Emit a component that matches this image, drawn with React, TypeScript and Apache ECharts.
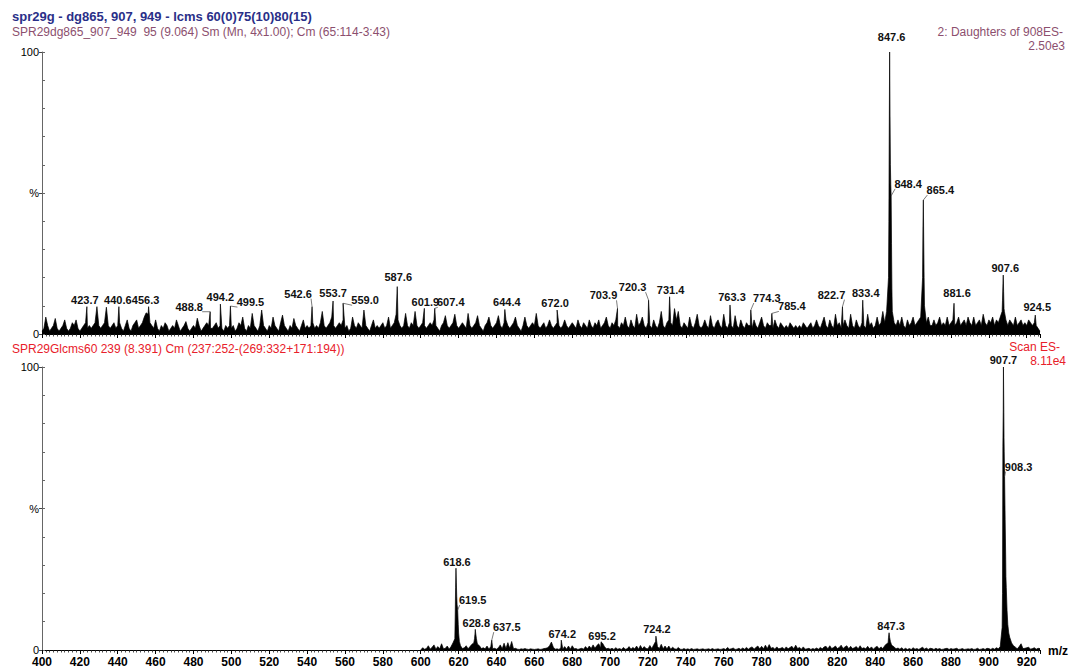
import React, { useEffect, useRef } from "react";
import * as echarts from "echarts";

const FONT = '"Liberation Sans", Arial, Helvetica, sans-serif';

const MZ_MIN = 400;
const MZ_MAX = 927;
const X_LABEL_STEP = 20;

const TITLE = "spr29g - dg865, 907, 949 - lcms 60(0)75(10)80(15)";
const TOP_INFO = "SPR29dg865_907_949  95 (9.064) Sm (Mn, 4x1.00); Cm (65:114-3:43)";
const TOP_RIGHT_1 = "2: Daughters of 908ES-";
const TOP_RIGHT_2 = "2.50e3";
const BOTTOM_INFO = "SPR29Glcms60 239 (8.391) Cm (237:252-(269:332+171:194))";
const BOTTOM_RIGHT_1 = "Scan ES-";
const BOTTOM_RIGHT_2 = "8.11e4";
const X_UNIT = "m/z";

// Top spectrum: relative intensity (%) at each integer m/z from 400 to 927
const TOP_BASE_START = 400;
const topBase = [
  1, 2, 6, 3, 1, 2, 3, 5.5, 2, 1,
  2, 3, 5, 2, 1, 2, 4, 3, 5, 2,
  1, 2, 3, 4, 2, 3, 2, 3, 4, 9.7,
  3, 2, 3, 4, 9.5, 3, 2, 3, 4, 2,
  3, 4, 2, 1, 3, 5, 2, 1, 3, 4,
  5, 2, 3, 4, 6, 7.5, 7, 4, 3, 2,
  5, 2, 1, 3, 2, 4, 3, 1, 2, 3,
  2, 5, 3, 1, 2, 3, 4.4, 2, 1, 2,
  3, 2, 5.6, 3, 1, 2, 3, 4, 3, 2,
  2, 3, 4, 2, 3, 2, 1, 3, 2, 3,
  2, 3, 1, 2, 4, 3, 6, 2, 1, 3,
  2, 7.3, 3, 2, 1, 3, 8.5, 3, 2, 1,
  3, 2, 6, 3, 2, 1, 4, 6.7, 3, 2,
  1, 3, 2, 5.5, 3, 2, 1, 3, 5, 2,
  3, 2, 3, 4, 2, 3, 2, 4, 8, 3,
  2, 3, 4, 6, 3, 2, 3, 4, 3, 5,
  2, 3, 1, 2, 6, 3, 2, 4, 3, 2,
  8.5, 3, 2, 1, 3, 5, 2, 3, 2, 3,
  4, 2, 3, 6, 2, 3, 4, 7, 5, 3,
  2, 3, 7.3, 3, 2, 4, 3, 8, 3, 2,
  3, 4, 3, 2, 3, 4, 3, 5, 3, 2,
  1, 3, 4, 6.5, 3, 2, 3, 4, 7, 3,
  2, 3, 4, 3, 2, 7.3, 3, 2, 3, 4,
  6.5, 3, 2, 1, 3, 4, 6, 3, 2, 3,
  4, 6.5, 3, 2, 4, 5, 3, 2, 3, 4,
  6, 3, 2, 1, 3, 6, 3, 2, 3, 4,
  3, 7.3, 3, 2, 3, 4, 2, 3, 5, 3,
  2, 3, 4, 3, 2, 3, 5, 3, 2, 3,
  4, 3, 2, 5, 3, 2, 4, 3, 2, 5,
  3, 2, 4, 3, 5, 2, 3, 4, 6, 3,
  2, 4, 3, 5, 3, 2, 4, 3, 6, 3,
  2, 5, 3, 2, 7, 3, 4, 6, 3, 2,
  4, 3, 2, 5, 3, 2, 4, 8, 3, 2,
  4, 5, 4, 3, 9, 5, 8, 3, 2, 4,
  3, 2, 6, 3, 2, 4, 7, 3, 2, 3,
  5, 3, 2, 6.5, 3, 2, 4, 5, 3, 2,
  7, 3, 2, 4, 3, 2, 6.5, 3, 2, 5,
  3, 2, 4, 3, 3, 2, 5, 3, 2, 4,
  6, 3, 2, 4, 3, 3, 2, 5, 3, 2,
  4, 3, 2, 3, 2, 4, 3, 2, 3, 2,
  3, 2, 4, 3, 2, 3, 4, 2, 3, 5,
  3, 2, 4, 6, 3, 2, 5, 3, 2, 7,
  3, 4, 2, 3, 5, 3, 2, 7, 3, 2,
  5, 3, 2, 4, 3, 2, 7, 3, 4, 2,
  3, 6, 3, 4, 8, 4, 8, 20, 60, 8,
  4, 3, 5, 3, 6, 3, 2, 5, 3, 4,
  6, 3, 4, 5, 6, 20, 10, 4, 6, 3,
  3, 5, 3, 4, 6, 3, 4, 3, 6, 3,
  4, 5, 3, 4, 6, 3, 4, 5, 3, 6,
  4, 3, 6, 3, 4, 5, 3, 7, 4, 3,
  5, 4, 6, 3, 5, 4, 6, 8, 9, 5,
  3, 5, 4, 3, 6, 3, 4, 5, 3, 4,
  3, 5, 4, 3, 4, 3, 2, 1,
];

// Labelled peaks of the top spectrum [m/z, %]
const topLabeled = [
  [423.7, 9.7], [440.6, 9.7], [456.3, 9.7], [488.8, 7.9], [494.2, 10.6],
  [499.5, 9.9], [542.6, 9.7], [553.7, 11.7], [559.0, 10.9], [587.6, 16.8],
  [601.9, 9.1], [607.4, 9.1], [644.4, 8.7], [672.0, 8.5], [703.9, 9.1],
  [720.3, 12], [731.4, 13.2], [763.3, 10.3], [774.3, 8.5], [785.4, 7.3],
  [822.7, 9.7], [833.4, 12], [847.6, 100], [848.4, 49], [865.4, 47.5],
  [881.6, 10.9], [907.6, 20.9], [924.5, 6.7],
];

// Unlabelled profile points of the main top peaks [m/z, %]
const topShape = [
  [847.2, 40], [847.4, 72], [847.8, 78], [848.2, 53], [848.6, 32], [848.8, 16],
  [865.2, 38], [865.6, 33], [865.8, 20],
  [907.2, 12], [907.4, 17], [907.8, 15], [908.2, 8],
];

// Bottom spectrum: relative intensity (%) at each integer m/z from 600 to 927
const BOTTOM_BASE_START = 600;
const bottomBase = [
  0, 0.8, 0.3, 0.5, 1.5, 0.3, 1.0, 1.8, 0.3, 1.2,
  0.4, 2.2, 0.4, 0.6, 1.4, 0.3, 1.2, 2.5, 4, 19,
  6, 1.5, 0.5, 0.8, 1.5, 0.4, 1.2, 2.0, 2.5, 6,
  2, 1.5, 0.5, 0.8, 0.4, 1.4, 0.3, 1.2, 0.4, 0.6,
  0.3, 0.8, 1.8, 0.4, 2.4, 0.5, 2.6, 0.6, 3.0, 0.4,
  0.6, 0.3, 0.2, 0.4, 0.3, 0.5, 0.3, 0.2, 0.4, 0.3,
  0.2, 0.3, 0.4, 0.2, 0.3, 0.5, 0.6, 0.8, 1.5, 2.8,
  1.0, 0.3, 0.4, 0.2, 0.8, 0.3, 1.2, 0.3, 1.4, 0.3,
  1.5, 0.4, 0.5, 0.2, 0.4, 0.6, 0.3, 1.2, 0.4, 1.4,
  0.5, 1.8, 0.6, 1.6, 2.2, 0.7, 2.4, 1.2, 0.4, 0.6,
  0.3, 0.6, 0.2, 0.8, 0.3, 0.5, 0.2, 0.9, 0.3, 0.4,
  1.2, 0.3, 0.9, 0.4, 1.4, 0.3, 1.6, 0.4, 1.2, 0.5,
  0.4, 1.6, 0.5, 1.8, 3.0, 1.2, 0.5, 2.0, 0.4, 1.4,
  0.4, 1.4, 0.3, 1.0, 0.4, 0.3, 0.9, 0.3, 0.2, 0.5,
  0.2, 0.4, 0.2, 0.5, 0.2, 0.3, 0.4, 0.2, 0.3, 0.4,
  0.2, 0.3, 0.4, 0.2, 0.5, 0.2, 0.3, 0.4, 0.2, 0.3,
  0.5, 0.2, 0.9, 0.3, 0.4, 0.7, 0.2, 0.3, 0.6, 0.2,
  0.7, 0.3, 0.9, 0.3, 0.8, 1.1, 0.3, 0.9, 1.4, 0.4,
  1.3, 0.4, 1.7, 0.5, 1.9, 0.6, 0.9, 0.3, 1.1, 0.4,
  0.6, 0.9, 0.3, 1.1, 0.4, 0.9, 1.3, 0.4, 1.7, 0.5,
  0.9, 0.3, 1.1, 0.3, 0.4, 0.6, 0.2, 0.5, 0.3, 0.7,
  0.3, 0.9, 0.4, 1.1, 1.3, 0.4, 1.5, 0.5, 0.9, 1.4,
  0.5, 0.9, 1.7, 0.5, 1.1, 1.5, 0.4, 1.3, 0.5, 0.8,
  1.2, 0.4, 1.5, 0.5, 0.8, 0.4, 1.3, 0.4, 1.1, 0.3,
  0.9, 1.3, 0.4, 1.1, 0.5, 1.5, 2.2, 4.5, 3, 1.5,
  1.1, 0.4, 0.7, 0.3, 0.8, 0.2, 0.6, 0.2, 0.5, 0.2,
  0.8, 0.3, 0.5, 0.2, 0.6, 1.0, 0.3, 0.7, 0.2, 0.6,
  0.5, 0.2, 0.6, 0.3, 0.5, 0.2, 0.3, 0.5, 0.6, 0.2,
  0.5, 0.3, 0.4, 0.6, 0.2, 0.3, 0.5, 0.2, 0.3, 0.4,
  0.3, 0.5, 0.2, 0.3, 0.6, 0.2, 0.3, 0.5, 0.2, 0.6,
  0.5, 0.2, 0.6, 0.3, 0.8, 0.4, 1.2, 8, 75, 26,
  9, 4.5, 2.5, 1.5, 1.0, 0.4, 1.2, 2.2, 0.5, 0.6,
  0.8, 1.0, 0.3, 0.5, 0.8, 0.3, 0.6, 0.5,
];

const bottomLabeled = [
  [618.6, 28.9], [619.5, 14.1], [628.8, 7.3], [637.5, 3.5], [674.2, 3.5],
  [695.2, 2.9], [724.2, 4.9], [847.3, 6.1], [907.7, 100], [908.3, 61.3],
];

const bottomShape = [
  [618.2, 12], [618.4, 22], [618.8, 24], [619.2, 16], [619.8, 9], [620.4, 3],
  [628.4, 4], [628.6, 5.5], [629.4, 4], [629.8, 2.5],
  [846.8, 2.5], [847.6, 4.5], [848.5, 2],
  [907.2, 20], [907.4, 72], [907.6, 85], [907.9, 84], [908.1, 70],
  [908.6, 46], [908.9, 32], [909.2, 22], [909.6, 14], [910.5, 6], [911.5, 3.5],
];

// label placement (pixel offsets of label centre from the peak top)
const topLabelOffsets = [
  [-2, -7], [-1, -7], [-3, -7], [-21, -5], [0, -7],
  [20, -4], [-14, -13], [0, -8], [22, -3], [1, -10],
  [1, -6], [16, -6], [2, -7], [-2, -7], [-14, -13],
  [-16, -13], [1, -7], [2, -8], [16, -12], [20, -7],
  [-11, -12], [3, -7], [2, -15], [17, -12], [17, -10],
  [3, -10], [2, -7], [2, -8],
];
const bottomLabelOffsets = [
  [1, -6], [15, -10], [1, -6], [15, -13], [1, -6],
  [1, -6], [1, -7], [2, -7], [0, -7], [14, -10],
];

function buildProfile(start: number, base: number[], labeled: number[][], shape: number[][]) {
  const pts: number[][] = base.map((v, i) => [start + i, v]);
  labeled.forEach((p) => pts.push([p[0], p[1]]));
  shape.forEach((p) => pts.push([p[0], p[1]]));
  pts.sort((a, b) => a[0] - b[0]);
  return pts;
}

function labelSeries(xIdx: number, yIdx: number, labeled: number[][], offsets: number[][]) {
  return {
    type: "custom",
    xAxisIndex: xIdx,
    yAxisIndex: yIdx,
    clip: false,
    silent: true,
    z: 5,
    data: labeled,
    renderItem: (params: any, api: any) => {
      const mz = api.value(0);
      const v = api.value(1);
      const pt = api.coord([mz, v]);
      const off = offsets[params.dataIndex] || [0, -7];
      const lx = pt[0] + off[0];
      const ly = pt[1] + off[1];
      const children: any[] = [
        {
          type: "text",
          x: lx,
          y: ly,
          style: {
            text: mz.toFixed(1),
            align: "center",
            verticalAlign: "middle",
            fill: "#111",
            fontSize: 11,
            fontWeight: "bold",
            fontFamily: FONT,
          },
        },
      ];
      if (Math.abs(off[0]) >= 8) {
        children.push({
          type: "line",
          shape: {
            x1: pt[0],
            y1: pt[1],
            x2: off[0] > 0 ? lx - 13 : lx + 13,
            y2: ly + 5,
          },
          style: { stroke: "#444", lineWidth: 0.7 },
        });
      }
      return { type: "group", children };
    },
  };
}

function xAxisCfg(gridIndex: number, showLabels: boolean) {
  return {
    type: "value",
    gridIndex,
    min: MZ_MIN,
    max: MZ_MAX,
    interval: X_LABEL_STEP,
    axisLine: { show: true, onZero: false, lineStyle: { color: "#000", width: 1 } },
    axisTick: { show: true, length: 4, lineStyle: { color: "#000", width: 1 } },
    minorTick: { show: true, splitNumber: 10, length: 2.5, lineStyle: { color: "#222", width: 0.8 } },
    splitLine: { show: false },
    minorSplitLine: { show: false },
    axisLabel: {
      show: showLabels,
      showMaxLabel: false,
      margin: 6,
      color: "#000",
      fontSize: 12,
      fontWeight: "bold",
      fontFamily: FONT,
      formatter: (v: number) => (v % X_LABEL_STEP === 0 ? String(v) : ""),
    },
  };
}

function yAxesCfg(gridIndex: number) {
  return [
    {
      type: "value",
      gridIndex,
      position: "left",
      min: 0,
      max: 100,
      interval: 10,
      axisLine: { show: true, lineStyle: { color: "#666", width: 1 } },
      axisTick: { show: true, inside: true, length: 3, lineStyle: { color: "#666" } },
      axisLabel: { show: false },
      splitLine: { show: false },
    },
    {
      type: "value",
      gridIndex,
      position: "left",
      min: 0,
      max: 100,
      interval: 50,
      axisLine: { show: false },
      axisTick: { show: true, inside: false, length: 3, lineStyle: { color: "#444" } },
      axisLabel: {
        show: true,
        margin: 3,
        color: "#000",
        fontSize: 11,
        fontFamily: FONT,
        formatter: (v: number) => (v === 100 ? "100" : v === 50 ? "%" : v === 0 ? "0" : ""),
      },
      splitLine: { show: false },
    },
  ];
}

export default function App() {
  const ref = useRef<HTMLDivElement>(null);

  useEffect(() => {
    if (!ref.current) return;
    const chart = echarts.init(ref.current, undefined, { renderer: "svg" });

    const topData = buildProfile(TOP_BASE_START, topBase, topLabeled, topShape);
    const bottomData = buildProfile(BOTTOM_BASE_START, bottomBase, bottomLabeled, bottomShape);

    const profile = (xIdx: number, yIdx: number, data: number[][]) => ({
      type: "line",
      xAxisIndex: xIdx,
      yAxisIndex: yIdx,
      data,
      symbol: "none",
      showSymbol: false,
      silent: true,
      lineStyle: { color: "#000", width: 0.7 },
      areaStyle: { color: "#000", opacity: 1, origin: "start" },
      z: 3,
    });

    const txt = (text: string, pos: any, color: string, font: string) => ({
      type: "text",
      ...pos,
      style: { text, fill: color, font },
    });

    chart.setOption({
      animation: false,
      backgroundColor: "#fff",
      grid: [
        { left: 42, right: 29, top: 52, bottom: 336, containLabel: false },
        { left: 42, right: 29, top: 367, bottom: 20, containLabel: false },
      ],
      xAxis: [xAxisCfg(0, false), xAxisCfg(1, true)],
      yAxis: [...yAxesCfg(0), ...yAxesCfg(1)],
      series: [
        profile(0, 0, topData),
        profile(1, 2, bottomData),
        labelSeries(0, 0, topLabeled, topLabelOffsets),
        labelSeries(1, 2, bottomLabeled, bottomLabelOffsets),
      ],
      graphic: [
        txt(TITLE, { left: 12, top: 10 }, "#2a2f88", `bold 13px ${FONT}`),
        txt(TOP_INFO, { left: 12, top: 26 }, "#8c4f6e", `12px ${FONT}`),
        txt(TOP_RIGHT_1, { right: 6, top: 26 }, "#8c4f6e", `12px ${FONT}`),
        txt(TOP_RIGHT_2, { right: 4, top: 40 }, "#8c4f6e", `12px ${FONT}`),
        txt(BOTTOM_INFO, { left: 12, top: 343 }, "#e8202a", `12px ${FONT}`),
        txt(BOTTOM_RIGHT_1, { right: 9, top: 341 }, "#e8202a", `12px ${FONT}`),
        txt(BOTTOM_RIGHT_2, { right: 3, top: 355 }, "#e8202a", `12px ${FONT}`),
        txt(X_UNIT, { left: 1048, top: 645 }, "#000", `bold 12px ${FONT}`),
      ],
    });

    return () => chart.dispose();
  }, []);

  return (
    <div
      ref={ref}
      style={{ position: "fixed", left: 0, top: 0, width: 1069, height: 670, background: "#fff" }}
    />
  );
}
